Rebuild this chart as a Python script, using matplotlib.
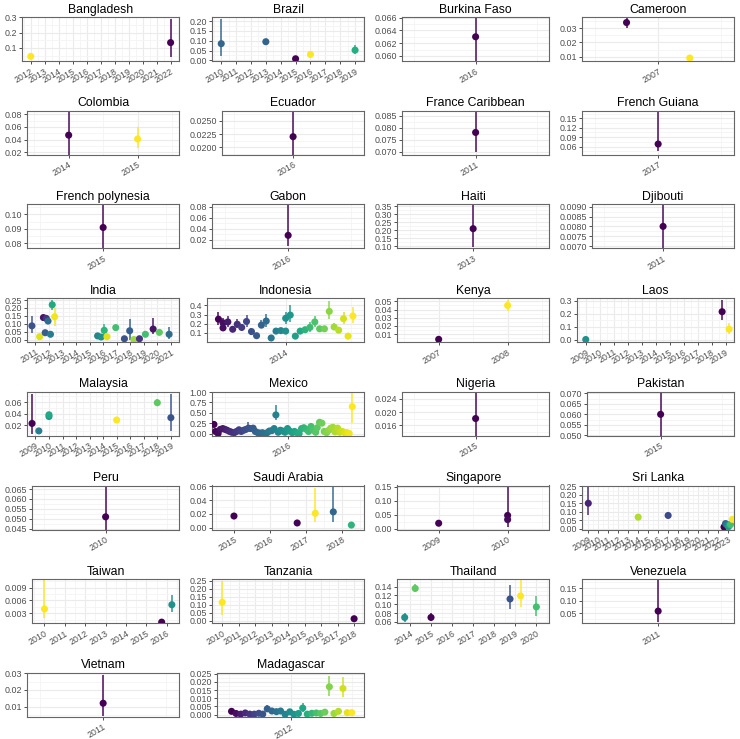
import matplotlib
matplotlib.use("Agg")
import matplotlib.pyplot as plt
import numpy as np

plt.rcParams['font.family'] = ['Liberation Sans', 'DejaVu Sans']

countries = ["Bangladesh", "Brazil", "Burkina Faso", "Cameroon",
             "Colombia", "Ecuador", "France Caribbean", "French Guiana",
             "French polynesia", "Gabon", "Haiti", "Djibouti",
             "India", "Indonesia", "Kenya", "Laos",
             "Malaysia", "Mexico", "Nigeria", "Pakistan",
             "Peru", "Saudi Arabia", "Singapore", "Sri Lanka",
             "Taiwan", "Tanzania", "Thailand", "Venezuela",
             "Vietnam", "Madagascar"]

# first and last year shown on each x axis
year_span = {
    "Bangladesh": (2012, 2022), "Brazil": (2010, 2019), "Burkina Faso": (2016, 2016),
    "Cameroon": (2007, 2007), "Colombia": (2014, 2015), "Ecuador": (2016, 2016),
    "France Caribbean": (2011, 2011), "French Guiana": (2017, 2017),
    "French polynesia": (2015, 2015), "Gabon": (2016, 2016), "Haiti": (2013, 2013),
    "Djibouti": (2011, 2011), "India": (2011, 2021), "Indonesia": (2014, 2014),
    "Kenya": (2007, 2008), "Laos": (2009, 2019), "Malaysia": (2009, 2019),
    "Mexico": (2016, 2016), "Nigeria": (2015, 2015), "Pakistan": (2015, 2015),
    "Peru": (2010, 2010), "Saudi Arabia": (2015, 2018), "Singapore": (2009, 2010),
    "Sri Lanka": (2009, 2023), "Taiwan": (2010, 2016), "Tanzania": (2010, 2018),
    "Thailand": (2014, 2020), "Venezuela": (2011, 2011), "Vietnam": (2011, 2011),
    "Madagascar": (2012, 2012),
}

years = {
    "Bangladesh": [2012, 2022],
    "Brazil": [2010, 2013, 2015, 2016, 2019],
    "Burkina Faso": [2016],
    "Cameroon": [2006.75, 2007.25],
    "Colombia": [2014, 2015],
    "Ecuador": [2016],
    "France Caribbean": [2011],
    "French Guiana": [2017],
    "French polynesia": [2015],
    "Gabon": [2016],
    "Haiti": [2013],
    "Djibouti": [2011],
    "India": [2010.74, 2011.31, 2011.59, 2011.72, 2011.8, 2011.93, 2012.11, 2012.24, 2012.42,
              2015.59, 2015.85, 2016.08, 2016.28, 2016.93, 2017.57, 2017.96, 2018.27, 2018.68,
              2019.12, 2019.69, 2020.15, 2020.87],
    "Indonesia": [2013.485, 2013.52, 2013.52, 2013.557, 2013.594, 2013.629, 2013.663, 2013.70,
                  2013.738, 2013.777, 2013.814, 2013.851, 2013.889, 2013.926, 2013.963, 2014.0,
                  2014.0, 2014.035, 2014.074, 2014.111, 2014.149, 2014.186, 2014.223, 2014.26,
                  2014.297, 2014.334, 2014.371, 2014.406, 2014.443, 2014.478, 2014.515],
    "Kenya": [2007, 2008],
    "Laos": [2009, 2018.75, 2019.25],
    "Malaysia": [2008.75, 2009.25, 2010.0, 2010.0, 2015, 2018, 2019],
    "Mexico": [2015.413, 2015.426, 2015.446, 2015.463, 2015.483, 2015.500, 2015.517, 2015.537, 2015.554, 2015.574,
               2015.592, 2015.611, 2015.629, 2015.649, 2015.666, 2015.686, 2015.703, 2015.723, 2015.740, 2015.760,
               2015.777, 2015.797, 2015.814, 2015.834, 2015.851, 2015.871, 2015.889, 2015.903, 2015.921, 2015.938,
               2015.958, 2015.975, 2015.995, 2016.012, 2016.032, 2016.050, 2016.069, 2016.087, 2016.106, 2016.124,
               2016.144, 2016.161, 2016.181, 2016.198, 2016.218, 2016.230, 2016.248, 2016.267, 2016.285, 2016.304,
               2016.322, 2016.337, 2016.354, 2016.371, 2016.391, 2016.408, 2016.428, 2016.446, 2016.465, 2016.483,
               2016.507],
    "Nigeria": [2015],
    "Pakistan": [2015],
    "Peru": [2010],
    "Saudi Arabia": [2015, 2016.75, 2017.25, 2017.75, 2018.25],
    "Singapore": [2009, 2010, 2010],
    "Sri Lanka": [2009, 2014, 2017, 2022.6, 2022.75, 2022.85, 2022.95, 2023.05, 2023.15, 2023.25, 2023.45],
    "Taiwan": [2010, 2015.75, 2016.25],
    "Tanzania": [2010, 2018],
    "Thailand": [2013.75, 2014.25, 2015, 2018.75, 2019.25, 2020],
    "Venezuela": [2011],
    "Vietnam": [2011],
    "Madagascar": [2011.517, 2011.554, 2011.592, 2011.629, 2011.666, 2011.703, 2011.74, 2011.772,
                   2011.809, 2011.847, 2011.884, 2011.918, 2011.955, 2011.993, 2012.027, 2012.064,
                   2012.099, 2012.136, 2012.173, 2012.21, 2012.245, 2012.28, 2012.317, 2012.354,
                   2012.391, 2012.428, 2012.463, 2012.5],
}

est = {
    "Bangladesh": [0.045, 0.135],
    "Brazil": [0.085, 0.095, 0.008, 0.03, 0.052],
    "Burkina Faso": [0.063],
    "Cameroon": [0.034, 0.009],
    "Colombia": [0.047, 0.041],
    "Ecuador": [0.022],
    "France Caribbean": [0.078],
    "French Guiana": [0.068],
    "French polynesia": [0.091],
    "Gabon": [0.028],
    "Haiti": [0.21],
    "Djibouti": [0.0080],
    "India": [0.088, 0.02, 0.14, 0.045, 0.135, 0.118, 0.035, 0.22, 0.145, 0.025, 0.018,
              0.06, 0.02, 0.077, 0.007, 0.057, 0.002, 0.007, 0.035, 0.068, 0.047, 0.035],
    "Indonesia": [0.25, 0.21, 0.155, 0.22, 0.14, 0.195, 0.16, 0.225, 0.115, 0.07, 0.185, 0.23,
                  0.045, 0.12, 0.125, 0.12, 0.26, 0.295, 0.065, 0.12, 0.135, 0.16, 0.22, 0.145,
                  0.145, 0.335, 0.165, 0.13, 0.255, 0.065, 0.285],
    "Kenya": [0.0035, 0.045],
    "Laos": [0.0, 0.215, 0.08],
    "Malaysia": [0.023, 0.01, 0.035, 0.038, 0.029, 0.059, 0.033],
    "Mexico": [0.22, 0.05, 0.00, 0.10, 0.12, 0.10, 0.08, 0.05, 0.03, 0.02,
               0.05, 0.09, 0.05, 0.08, 0.10, 0.13, 0.12, 0.13, 0.05, 0.02,
               0.01, 0.02, 0.00, 0.02, 0.06, 0.07, 0.12, 0.45, 0.03, 0.08,
               0.06, 0.03, 0.12, 0.06, 0.02, 0.05, 0.02, 0.00, 0.12, 0.14,
               0.10, 0.05, 0.17, 0.08, 0.03, 0.14, 0.27, 0.25, 0.05, 0.02,
               0.08, 0.13, 0.15, 0.04, 0.13, 0.03, 0.05, 0.02, 0.02, 0.00,
               0.65],
    "Nigeria": [0.018],
    "Pakistan": [0.060],
    "Peru": [0.051],
    "Saudi Arabia": [0.017, 0.007, 0.021, 0.023, 0.004],
    "Singapore": [0.02, 0.048, 0.033],
    "Sri Lanka": [0.15, 0.068, 0.078, 0.01, 0.03, 0.025, 0.02, 0.012, 0.02, 0.025, 0.055],
    "Taiwan": [0.004, 0.0009, 0.005],
    "Tanzania": [0.115, 0.012],
    "Thailand": [0.07, 0.136, 0.07, 0.112, 0.119, 0.094],
    "Venezuela": [0.058],
    "Vietnam": [0.012],
    "Madagascar": [0.002, 0.0007, 0.0003, 0.001, 0.0003, 0.0003, 0.0008, 0.0003, 0.0035, 0.0022,
                   0.0018, 0.0022, 0.0002, 0.0017, 0.0002, 0.0007, 0.004, 0.0003, 0.0008, 0.001,
                   0.0007, 0.0015, 0.017, 0.0007, 0.002, 0.016, 0.0012, 0.0012],
}

lower = {
    "Bangladesh": [0.038, 0.04],
    "Brazil": [0.022, 0.083, 0.002, 0.017, 0.03],
    "Burkina Faso": [0.0585],
    "Cameroon": [0.030, 0.0085],
    "Colombia": [0.015, 0.027],
    "Ecuador": [0.018],
    "France Caribbean": [0.070],
    "French Guiana": [0.045],
    "French polynesia": [0.07],
    "Gabon": [0.008],
    "Haiti": [0.095],
    "Djibouti": [0.0069],
    "India": [0.045, 0.015, 0.13, 0.04, 0.125, 0.105, 0.03, 0.19, 0.085, 0.015, 0.01,
              0.03, 0.008, 0.07, 0.003, 0.0, 0.0, 0.003, 0.02, 0.035, 0.04, 0.005],
    "Indonesia": [0.19, 0.17, 0.12, 0.17, 0.115, 0.15, 0.125, 0.17, 0.08, 0.06, 0.15, 0.17,
                  0.04, 0.11, 0.11, 0.11, 0.20, 0.22, 0.06, 0.09, 0.10, 0.11, 0.16, 0.12,
                  0.13, 0.25, 0.13, 0.10, 0.20, 0.06, 0.21],
    "Kenya": [0.0028, 0.038],
    "Laos": [-0.003, 0.15, 0.045],
    "Malaysia": [0.005, 0.009, 0.033, 0.036, 0.028, 0.054, 0.01],
    "Mexico": [0.17, 0.03, 0.00, 0.08, 0.10, 0.08, 0.06, 0.03, 0.01, 0.00,
               0.03, 0.07, 0.03, 0.06, 0.08, 0.08, 0.10, 0.08, 0.03, 0.00,
               0.00, 0.00, 0.00, 0.00, 0.04, 0.05, 0.09, 0.32, 0.01, 0.06,
               0.04, 0.01, 0.09, 0.04, 0.00, 0.03, 0.00, 0.00, 0.09, 0.11,
               0.08, 0.03, 0.12, 0.06, 0.01, 0.11, 0.22, 0.20, 0.03, 0.00,
               0.06, 0.10, 0.10, 0.02, 0.08, 0.01, 0.03, 0.00, 0.00, 0.00,
               0.25],
    "Nigeria": [0.012],
    "Pakistan": [0.049],
    "Peru": [0.0445],
    "Saudi Arabia": [0.014, 0.005, 0.008, 0.008, 0.002],
    "Singapore": [0.015, 0.005, 0.028],
    "Sri Lanka": [0.08, 0.063, 0.065, 0.005, 0.02, 0.018, 0.012, 0.005, 0.012, 0.018, 0.045],
    "Taiwan": [0.0018, 0.0006, 0.0033],
    "Tanzania": [0.035, 0.0],
    "Thailand": [0.06, 0.128, 0.063, 0.09, 0.093, 0.074],
    "Venezuela": [0.015],
    "Vietnam": [0.0045],
    "Madagascar": [0.0007, 0.0002, 0.0, 0.0, 0.0, 0.0, 0.0002, 0.0, 0.0018, 0.0012,
                   0.0008, 0.0008, 0.0, 0.0008, 0.0, 0.0002, 0.0018, 0.0, 0.0002, 0.0003,
                   0.0002, 0.0006, 0.0115, 0.0002, 0.0008, 0.0105, 0.0004, 0.0004],
}

upper = {
    "Bangladesh": [0.053, 0.29],
    "Brazil": [0.212, 0.11, 0.015, 0.046, 0.08],
    "Burkina Faso": [0.067],
    "Cameroon": [0.038, 0.0095],
    "Colombia": [0.09, 0.06],
    "Ecuador": [0.028],
    "France Caribbean": [0.09],
    "French Guiana": [0.18],
    "French polynesia": [0.11],
    "Gabon": [0.09],
    "Haiti": [0.37],
    "Djibouti": [0.0092],
    "India": [0.15, 0.025, 0.15, 0.05, 0.145, 0.13, 0.04, 0.25, 0.2, 0.035, 0.025,
              0.1, 0.035, 0.085, 0.012, 0.13, 0.005, 0.012, 0.05, 0.135, 0.055, 0.08],
    "Indonesia": [0.33, 0.26, 0.19, 0.29, 0.17, 0.25, 0.20, 0.30, 0.15, 0.08, 0.24, 0.31,
                  0.05, 0.13, 0.14, 0.13, 0.33, 0.40, 0.07, 0.15, 0.17, 0.22, 0.29, 0.18,
                  0.16, 0.45, 0.21, 0.16, 0.33, 0.07, 0.38],
    "Kenya": [0.0042, 0.052],
    "Laos": [0.003, 0.305, 0.13],
    "Malaysia": [0.075, 0.011, 0.037, 0.040, 0.030, 0.065, 0.075],
    "Mexico": [0.30, 0.07, 0.01, 0.12, 0.14, 0.12, 0.10, 0.07, 0.05, 0.04,
               0.07, 0.11, 0.07, 0.10, 0.12, 0.28, 0.14, 0.20, 0.07, 0.04,
               0.03, 0.04, 0.02, 0.04, 0.08, 0.09, 0.15, 0.70, 0.05, 0.10,
               0.08, 0.05, 0.16, 0.08, 0.04, 0.07, 0.04, 0.02, 0.15, 0.17,
               0.12, 0.07, 0.25, 0.10, 0.05, 0.17, 0.35, 0.30, 0.07, 0.04,
               0.10, 0.16, 0.20, 0.06, 0.18, 0.05, 0.07, 0.04, 0.04, 0.02,
               1.00],
    "Nigeria": [0.027],
    "Pakistan": [0.071],
    "Peru": [0.066],
    "Saudi Arabia": [0.020, 0.009, 0.058, 0.060, 0.006],
    "Singapore": [0.025, 0.15, 0.038],
    "Sri Lanka": [0.25, 0.073, 0.092, 0.015, 0.04, 0.032, 0.028, 0.02, 0.028, 0.032, 0.065],
    "Taiwan": [0.011, 0.0012, 0.0072],
    "Tanzania": [0.25, 0.03],
    "Thailand": [0.08, 0.145, 0.08, 0.143, 0.155, 0.118],
    "Venezuela": [0.19],
    "Vietnam": [0.029],
    "Madagascar": [0.0035, 0.0013, 0.0007, 0.0025, 0.0007, 0.0007, 0.0015, 0.0007, 0.0058, 0.0033,
                   0.003, 0.0035, 0.0006, 0.0028, 0.0006, 0.0013, 0.0072, 0.0007, 0.0015, 0.0018,
                   0.0013, 0.0025, 0.0235, 0.0013, 0.0032, 0.0228, 0.002, 0.002],
}

# colour value on the viridis scale; dense panels are coloured by position instead
shade = {
    "Bangladesh": [1.0, 0.0],
    "Brazil": [0.33, 0.32, 0.0, 1.0, 0.62],
    "Cameroon": [0.0, 1.0],
    "Colombia": [0.0, 1.0],
    "India": [0.25, 0.95, 0.05, 0.3, 0.15, 0.35, 0.42, 0.6, 0.98, 0.45, 0.5,
              0.65, 0.95, 0.7, 0.25, 0.3, 0.85, 0.15, 0.7, 0.05, 0.75, 0.35],
    "Kenya": [0.0, 1.0],
    "Laos": [0.5, 0.0, 1.0],
    "Malaysia": [0.0, 0.42, 0.55, 0.6, 1.0, 0.75, 0.25],
    "Saudi Arabia": [0.0, 0.0, 1.0, 0.33, 0.65],
    "Singapore": [0.0, 0.0, 0.03],
    "Sri Lanka": [0.1, 0.88, 0.22, 0.0, 0.3, 0.38, 0.45, 0.52, 0.6, 0.7, 1.0],
    "Taiwan": [1.0, 0.0, 0.5],
    "Tanzania": [1.0, 0.0],
    "Thailand": [0.5, 0.75, 0.0, 0.25, 1.0, 0.7],
}

y_ticks = {
    "Bangladesh": [0.1, 0.2, 0.3],
    "Brazil": [0.0, 0.05, 0.10, 0.15, 0.20],
    "Burkina Faso": [0.060, 0.062, 0.064, 0.066],
    "Cameroon": [0.01, 0.02, 0.03],
    "Colombia": [0.02, 0.04, 0.06, 0.08],
    "Ecuador": [0.02, 0.0225, 0.025],
    "France Caribbean": [0.070, 0.075, 0.080, 0.085],
    "French Guiana": [0.06, 0.09, 0.12, 0.15],
    "French polynesia": [0.08, 0.09, 0.10],
    "Gabon": [0.02, 0.04, 0.06, 0.08],
    "Haiti": [0.10, 0.15, 0.20, 0.25, 0.30, 0.35],
    "Djibouti": [0.0070, 0.0075, 0.0080, 0.0085, 0.0090],
    "India": [0.0, 0.05, 0.10, 0.15, 0.20, 0.25],
    "Indonesia": [0.1, 0.2, 0.3, 0.4],
    "Kenya": [0.01, 0.02, 0.03, 0.04, 0.05],
    "Laos": [0.0, 0.1, 0.2, 0.3],
    "Malaysia": [0.02, 0.04, 0.06],
    "Mexico": [0.0, 0.25, 0.50, 0.75, 1.00],
    "Nigeria": [0.016, 0.020, 0.024],
    "Pakistan": [0.050, 0.055, 0.060, 0.065, 0.070],
    "Peru": [0.045, 0.050, 0.055, 0.060, 0.065],
    "Saudi Arabia": [0.0, 0.02, 0.04, 0.06],
    "Singapore": [0.0, 0.05, 0.10, 0.15],
    "Sri Lanka": [0.0, 0.05, 0.10, 0.15, 0.20, 0.25],
    "Taiwan": [0.003, 0.006, 0.009],
    "Tanzania": [0.0, 0.05, 0.10, 0.15, 0.20, 0.25],
    "Thailand": [0.06, 0.08, 0.10, 0.12, 0.14],
    "Venezuela": [0.05, 0.10, 0.15],
    "Vietnam": [0.01, 0.02, 0.03],
    "Madagascar": [0.0, 0.005, 0.010, 0.015, 0.020, 0.025],
}

y_range = {
    "Bangladesh": (0.015, 0.302), "Brazil": (-0.0034, 0.221), "Burkina Faso": (0.0592, 0.0661),
    "Cameroon": (0.0069, 0.0379), "Colombia": (0.0163, 0.0854), "Ecuador": (0.01857, 0.02695),
    "France Caribbean": (0.0687, 0.0871), "French Guiana": (0.034, 0.174),
    "French polynesia": (0.0766, 0.1069), "Gabon": (0.0044, 0.084), "Haiti": (0.088, 0.36),
    "Djibouti": (0.00688, 0.00912), "India": (-0.014, 0.262), "Indonesia": (0.0, 0.48),
    "Kenya": (0.0001, 0.054), "Laos": (-0.02, 0.32), "Malaysia": (0.0015, 0.078),
    "Mexico": (-0.055, 1.008), "Nigeria": (0.0127, 0.0262), "Pakistan": (0.0497, 0.0708),
    "Peru": (0.0446, 0.0668), "Saudi Arabia": (-0.0024, 0.061), "Singapore": (-0.0024, 0.155),
    "Sri Lanka": (-0.005, 0.255), "Taiwan": (0.00065, 0.011), "Tanzania": (-0.016, 0.26),
    "Thailand": (0.0569, 0.157), "Venezuela": (0.009, 0.187), "Vietnam": (0.0038, 0.0302),
    "Madagascar": (-0.0014, 0.0255),
}


def tick_text(ticks):
    for d in range(6):
        if all(abs(round(t, d) - t) < 1e-9 for t in ticks):
            break
    return ["%.*f" % (d, t) for t in ticks]


W, H = 740, 739
fig = plt.figure(figsize=(W / 100, H / 100), dpi=100)
cmap = plt.get_cmap("viridis")
TICK_PT = 6.4

for i, name in enumerate(countries):
    row, col = divmod(i, 4)
    labels = tick_text(y_ticks[name])
    digit_w = 0.556 * TICK_PT * 100 / 72
    label_w = max(digit_w * sum(ch.isdigit() for ch in s) + digit_w / 2 * s.count(".") for s in labels)
    left = col * 185 + label_w + 10
    right = col * 185 + 179
    top = 17 + 93.7 * row
    h = 44
    ax = fig.add_axes([left / W, 1 - (top + h) / H, (right - left) / W, h / H])

    x = np.array(years[name], dtype=float)
    if name in shade:
        cval = np.array(shade[name])
    elif len(x) > 1:
        cval = (x - x.min()) / (x.max() - x.min())
    else:
        cval = np.zeros(1)
    colors = cmap(cval)

    ax.vlines(x, lower[name], upper[name], colors=colors, alpha=0.75, lw=1.4, zorder=2)
    ax.scatter(x, est[name], s=26, c=colors, edgecolors="none", zorder=3)

    y0, y1 = year_span[name]
    ax.set_xlim(y0 - 0.6, y1 + 0.6)
    xt = np.arange(y0, y1 + 1)
    ax.set_xticks(xt)
    ax.set_xticklabels([str(v) for v in xt], rotation=30, ha="right", rotation_mode="anchor")
    ax.set_xticks(np.arange(y0 - 0.5, y1 + 1.0, 1.0), minor=True)

    yt = np.array(y_ticks[name])
    ax.set_yticks(yt)
    ax.set_yticklabels(labels)
    step = yt[1] - yt[0]
    ax.set_yticks(np.concatenate([[yt[0] - step / 2], yt + step / 2]), minor=True)
    ax.set_ylim(*y_range[name])

    ax.set_axisbelow(True)
    ax.grid(which="major", color="#ebebeb", lw=0.8)
    ax.grid(which="minor", color="#f4f4f4", lw=0.6)
    ax.tick_params(which="major", length=2.5, width=0.6, color="#333333",
                   labelsize=TICK_PT, labelcolor="#4d4d4d", pad=1.5)
    ax.tick_params(which="minor", length=0)
    for sp in ax.spines.values():
        sp.set_color("#666666")
        sp.set_linewidth(0.8)
    ax.set_title(name, fontsize=8.8, pad=3.2)

fig.savefig("out.png", dpi=100, facecolor="white")
